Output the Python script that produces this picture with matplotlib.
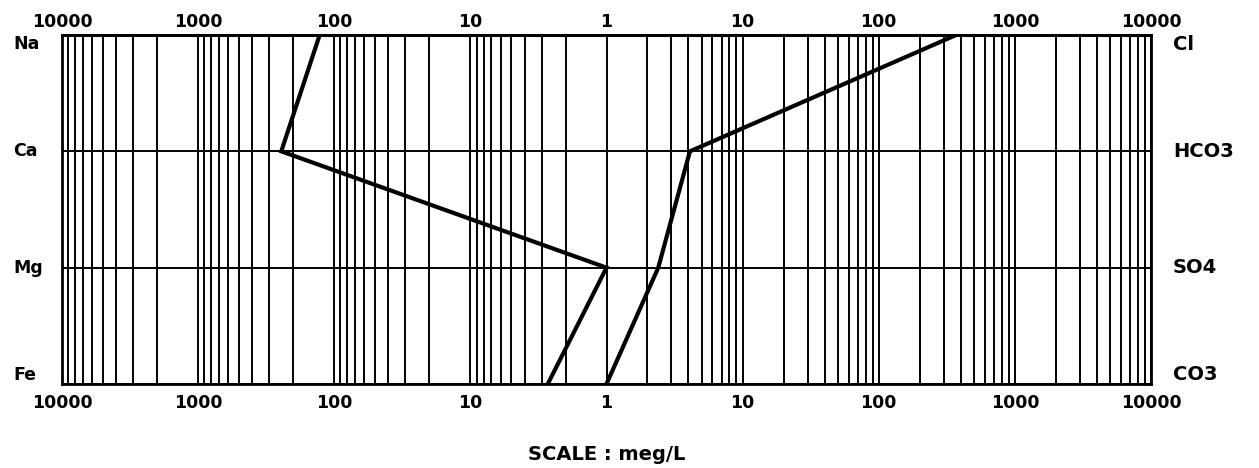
import matplotlib.pyplot as plt
import numpy as np
import matplotlib.transforms as mtransforms

# data (meq/L)
cations = ['Na', 'Ca', 'Mg', 'Fe']
anions = ['Cl', 'HCO3', 'SO4', 'CO3']
cation_vals = [128, 245, 1.0, 2.7]
anion_vals = [370, 4.1, 2.4, 1.0]
scale_labels = ['10000', '1000', '100', '10', '1', '10', '100', '1000', '10000']

plt.rcParams['font.family'] = 'DejaVu Sans'
plt.rcParams['font.weight'] = 'bold'

fig = plt.figure(figsize=(12.59, 4.68), dpi=100)
W, H = 1259, 468
ax = fig.add_axes([62 / W, 1 - 384 / H, (1151 - 62) / W, (384 - 35) / H])

rows = np.arange(len(cations))

# log grid, mirrored about 1
major = np.arange(-4, 5)
minor = []
for d in range(4):
    for m in range(2, 10):
        v = np.log10(m * 10 ** d)
        minor += [v, -v]
ax.set_xticks(major)
ax.set_xticks(sorted(minor), minor=True)
ax.set_xticklabels(scale_labels)
ax.set_xlim(-4, 4)
ax.grid(True, which='both', axis='x', color='black', lw=1.4)
ax.set_yticks(rows)
ax.set_yticklabels([])
ax.grid(True, which='major', axis='y', color='black', lw=1.4)
ax.set_ylim(rows[-1], rows[0])
ax.tick_params(which='both', length=0)
ax.tick_params(axis='x', labelsize=12.5, pad=7)
for lab in ax.get_xticklabels():
    lab.set_fontweight('bold')
for s in ax.spines.values():
    s.set_linewidth(2)

# same scale along the top
top = ax.secondary_xaxis('top')
top.set_xticks(major)
top.set_xticklabels(scale_labels, fontweight='bold')
top.tick_params(length=0, labelsize=12.5, pad=3)
top.spines['top'].set_linewidth(2)

# stiff lines
ax.plot(-np.log10(cation_vals), rows, color='black', lw=3, solid_joinstyle='miter')
ax.plot(np.log10(anion_vals), rows, color='black', lw=3, solid_joinstyle='miter')

# row labels
tl = mtransforms.blended_transform_factory(fig.transFigure, ax.transData)
for i, (c, a) in enumerate(zip(cations, anions)):
    va = 'center'
    if i == 0:
        va = 'top'
    elif i == len(cations) - 1:
        va = 'bottom'
    ax.text(13 / W, i, c, transform=tl, ha='left', va=va, fontsize=12.5, fontweight='bold')
    ax.text(1173 / W, i, a, transform=tl, ha='left', va=va, fontsize=14, fontweight='bold')

fig.text(607 / W, 1 - 455 / H, 'SCALE : meg/L', ha='center', va='center',
         fontsize=14, fontweight='bold')

fig.savefig('out.png', dpi=100)
